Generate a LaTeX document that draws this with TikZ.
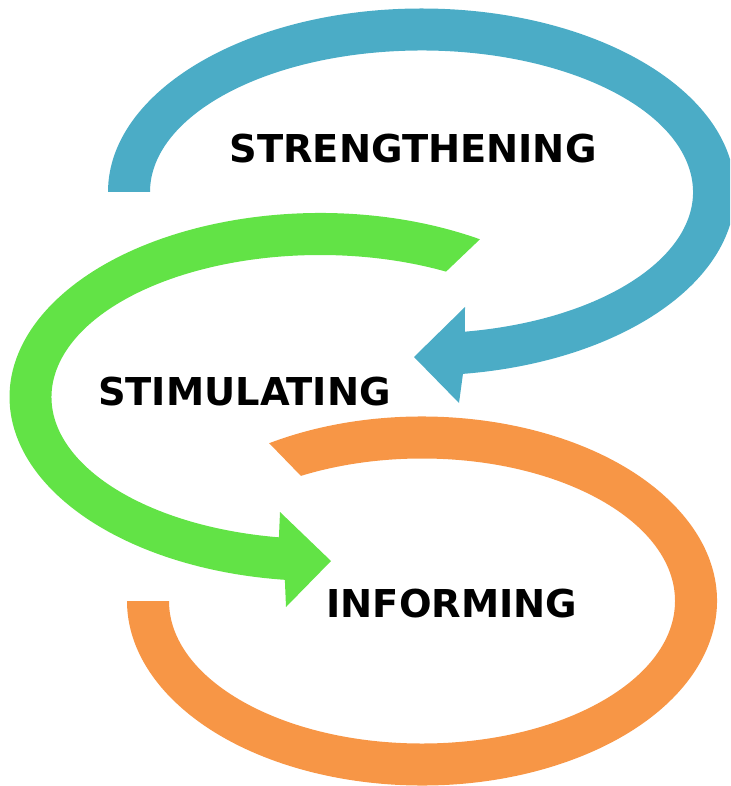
\documentclass[tikz,border=0pt]{standalone}
\usepackage{fontspec}
\setsansfont{DejaVu Sans}
\usetikzlibrary{calc}
\definecolor{loopblue}{HTML}{4BACC6}
\definecolor{loopgreen}{HTML}{62E346}
\definecolor{looporange}{HTML}{F79646}
\tikzset{looptext/.style={font=\sffamily\bfseries\fontsize{27.3}{32}\selectfont, inner sep=0pt}}

\begin{document}
\begin{tikzpicture}[x=0.025cm, y=-0.025cm]
        \clip (0,0) rectangle (730,786);
        \coordinate (cblue) at (421.5,192);
        \coordinate (cgreen) at (320,397);
        \coordinate (corange) at (422,601);
        \fill[loopblue] ($(cblue)+(180:313.5 and 183.5)$) arc[start angle=180, end angle=442.4, x radius=313.5, y radius=183.5]
            -- (459,403) -- (414,357) -- (465,307)
            -- ($(cblue)+(440.8:271.5 and 141.5)$) arc[start angle=440.8, end angle=180, x radius=271.5, y radius=141.5] -- cycle;
        \fill[loopgreen] ($(cgreen)+(301:310.5 and 184)$) arc[start angle=301, end angle=96.5, x radius=310.5, y radius=184]
            -- (286,607) -- (331,561) -- (280,512)
            -- ($(cgreen)+(98.8:268.5 and 142)$) arc[start angle=98.8, end angle=298, x radius=268.5, y radius=142] -- cycle;
        \fill[looporange] ($(corange)+(238.8:295 and 184.5)$) arc[start angle=238.8, end angle=540, x radius=295, y radius=184.5]
            -- ($(corange)+(540:253 and 142.5)$) arc[start angle=540, end angle=241.4, x radius=253, y radius=142.5] -- cycle;
        \node[looptext] (strengthening) at (413,149) {STRENGTHENING};
        \node[looptext] (stimulating) at (244.5,391.5) {STIMULATING};
        \node[looptext] (informing) at (452,603.5) {INFORMING};
    \end{tikzpicture}
\end{document}
